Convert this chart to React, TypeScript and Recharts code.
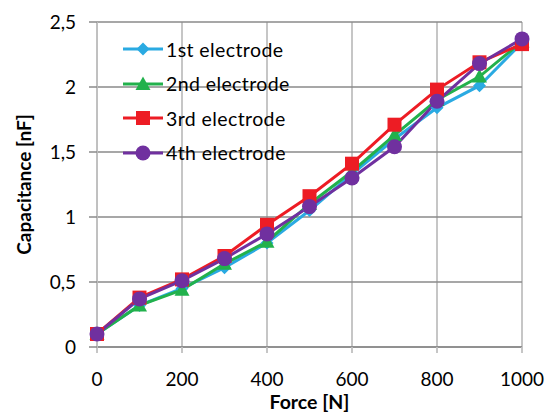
import React from 'react';
import { LineChart, Line, XAxis, YAxis, CartesianGrid } from 'recharts';

const forces = [0, 100, 200, 300, 400, 500, 600, 700, 800, 900, 1000];
const electrode1 = [0.1, 0.32, 0.45, 0.61, 0.8, 1.05, 1.33, 1.6, 1.84, 2.01, 2.34];
const electrode2 = [0.1, 0.32, 0.44, 0.64, 0.81, 1.1, 1.35, 1.63, 1.9, 2.08, 2.35];
const electrode3 = [0.1, 0.38, 0.52, 0.7, 0.94, 1.16, 1.41, 1.71, 1.98, 2.19, 2.33];
const electrode4 = [0.1, 0.37, 0.51, 0.68, 0.87, 1.08, 1.3, 1.54, 1.89, 2.18, 2.37];
const xTicks = [0, 200, 400, 600, 800, 1000];
const yTicks = [0, 0.5, 1, 1.5, 2, 2.5];

const seriesNames = ['1st electrode', '2nd electrode', '3rd electrode', '4th electrode'];
const seriesKeys = ['e1', 'e2', 'e3', 'e4'];
const seriesColors = ['#2AAAE2', '#22B14C', '#ED1C24', '#70309F'];
const seriesShapes = ['diamond', 'triangle', 'square', 'circle'];

const data = forces.map((f, i) => ({
  force: f,
  e1: electrode1[i],
  e2: electrode2[i],
  e3: electrode3[i],
  e4: electrode4[i],
}));

const FONT = 'Lato, "Open Sans", sans-serif';

function markerEl(shape: string, cx: number, cy: number, color: string, key?: any) {
  if (shape === 'diamond') {
    const s = 6.5;
    return <path key={key} d={`M${cx},${cy - s}L${cx + s},${cy}L${cx},${cy + s}L${cx - s},${cy}Z`} fill={color} />;
  }
  if (shape === 'triangle') {
    const s = 7.5;
    return <path key={key} d={`M${cx},${cy - s}L${cx + s},${cy + s * 0.8}L${cx - s},${cy + s * 0.8}Z`} fill={color} />;
  }
  if (shape === 'square') {
    const s = 7;
    return <rect key={key} x={cx - s} y={cy - s} width={2 * s} height={2 * s} fill={color} />;
  }
  return <circle key={key} cx={cx} cy={cy} r={7.5} fill={color} />;
}

const makeDot = (shape: string, color: string) => (props: any) => {
  const { cx, cy, index } = props;
  if (cx == null || cy == null) return <g key={index} />;
  return markerEl(shape, cx, cy, color, index);
};

const LegendBox = () => (
  <div style={{ position: 'absolute', left: 123, top: 32, fontFamily: FONT, fontSize: 19.5, letterSpacing: 0.4, color: '#000' }}>
    {seriesNames.map((n, i) => (
      <div key={n} style={{ display: 'flex', alignItems: 'center', height: 34.5 }}>
        <svg width={41} height={20} style={{ display: 'block' }}>
          <line x1={0} y1={10} x2={40} y2={10} stroke={seriesColors[i]} strokeWidth={3} />
          {markerEl(seriesShapes[i], 20, 10, seriesColors[i])}
        </svg>
        <span style={{ marginLeft: 2, whiteSpace: 'nowrap' }}>{n}</span>
      </div>
    ))}
  </div>
);

export default function App() {
  return (
    <div style={{ position: 'absolute', left: 0, top: 0, width: 552, height: 417, background: '#fff' }}>
      <LineChart width={552} height={417} data={data} margin={{ top: 22, right: 30, left: 0, bottom: 0 }}>
        <CartesianGrid horizontal={false} stroke="#C0C0C0" strokeWidth={1.8} />
        <CartesianGrid vertical={false} stroke="#8A8A8A" strokeWidth={1.5} />
        <XAxis
          type="number"
          dataKey="force"
          domain={[0, 1000]}
          ticks={xTicks}
          height={70}
          axisLine={{ stroke: '#8A8A8A', strokeWidth: 1.5 }}
          tickLine={{ stroke: '#C0C0C0', strokeWidth: 1.8 }}
          tickSize={6}
          tickMargin={20}
          tick={{ fill: '#000', fontFamily: FONT, fontSize: 19 }}
          label={{ value: 'Force [N]', position: 'insideBottom', offset: 8, fill: '#000', fontFamily: FONT, fontSize: 19.5, fontWeight: 'bold' }}
        />
        <YAxis
          type="number"
          domain={[0, 2.5]}
          ticks={yTicks}
          width={97}
          axisLine={{ stroke: '#C0C0C0', strokeWidth: 1.8 }}
          tickLine={{ stroke: '#8A8A8A', strokeWidth: 1.5 }}
          tickSize={8}
          tickMargin={13}
          tickFormatter={(v: number) => String(v).replace('.', ',')}
          tick={{ fill: '#000', fontFamily: FONT, fontSize: 19 }}
          label={{ value: 'Capacitance [nF]', angle: -90, position: 'insideLeft', offset: 24, style: { textAnchor: 'middle' }, fill: '#000', fontFamily: FONT, fontSize: 19, fontWeight: 'bold' }}
        />
        {seriesKeys.map((k, i) => (
          <Line
            key={k}
            dataKey={k}
            name={seriesNames[i]}
            stroke={seriesColors[i]}
            strokeWidth={3}
            dot={makeDot(seriesShapes[i], seriesColors[i])}
            activeDot={false}
            isAnimationActive={false}
          />
        ))}
      </LineChart>
      <LegendBox />
    </div>
  );
}
